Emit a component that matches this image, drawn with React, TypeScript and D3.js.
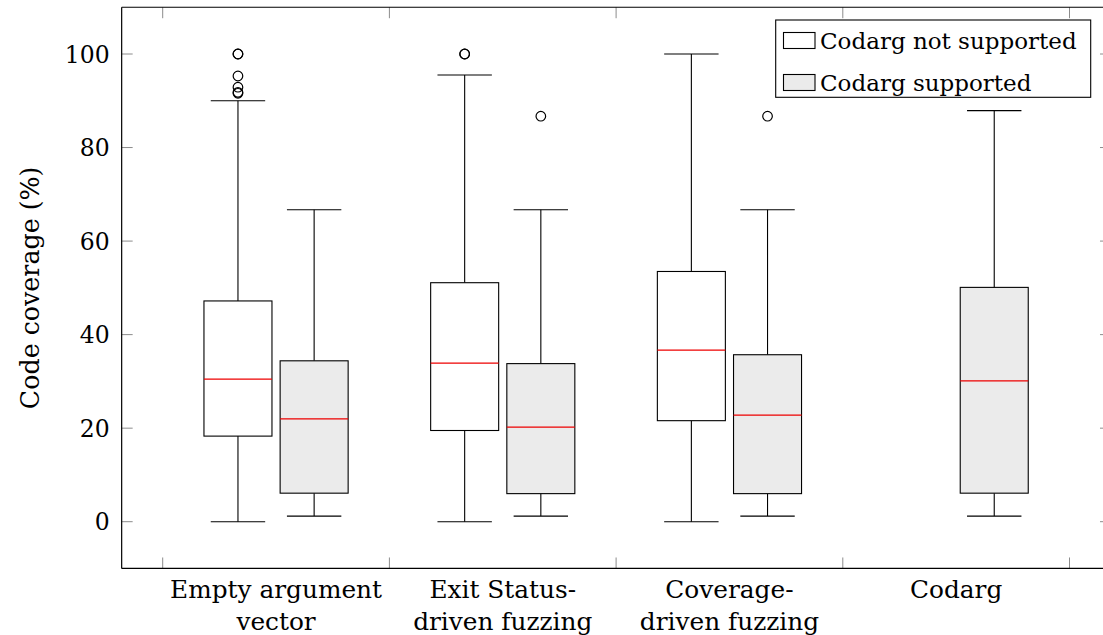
import React from "react";
import * as d3 from "d3";

const categories: string[][] = [
  ["Empty argument", "vector"],
  ["Exit Status-", "driven fuzzing"],
  ["Coverage-", "driven fuzzing"],
  ["Codarg"],
];

// [min, q1, median, q3, max] per category; null = no box
const notSupportedStats: (number[] | null)[] = [
  [0, 18.3, 30.5, 47.2, 90],
  [0, 19.5, 33.9, 51.1, 95.5],
  [0, 21.6, 36.7, 53.5, 100],
  null,
];
const notSupportedOutliers: number[][] = [
  [100, 100, 95.3, 92.9, 91.8, 91.6],
  [100, 100],
  [],
  [],
];

const supportedStats: (number[] | null)[] = [
  [1.2, 6.1, 22.0, 34.4, 66.7],
  [1.2, 6.0, 20.2, 33.8, 66.7],
  [1.2, 6.0, 22.8, 35.7, 66.7],
  [1.2, 6.1, 30.1, 50.1, 87.9],
];
const supportedOutliers: number[][] = [[], [86.7], [86.7], []];

const yTicks = [0, 20, 40, 60, 80, 100];
const xTicks = [0.5, 1.5, 2.5, 3.5, 4.5];
const legendLabels = ["Codarg not supported", "Codarg supported"];
const seriesFills = ["#ffffff", "#ebebeb"];

const W = 1103;
const H = 635;
const FONT = "'DejaVu Serif', serif";

export default function App() {
  const x = d3.scaleLinear().domain([0.5, 4.5]).range([162.7, 1069.5]);
  const y = d3.scaleLinear().domain([0, 100]).range([521.7, 54]);
  const xLeft = x(0.319);
  const xRight = x(4.683);
  const yTop = y(110);
  const yBottom = y(-10);
  const offset = 0.168;
  const boxW = x(0.3) - x(0);
  const capW = x(0.24) - x(0);
  const tickLen = 11;

  const series = [
    { stats: notSupportedStats, outliers: notSupportedOutliers, fill: seriesFills[0], dx: -offset },
    { stats: supportedStats, outliers: supportedOutliers, fill: seriesFills[1], dx: offset },
  ];

  return (
    <div style={{ position: "absolute", left: 0, top: 0 }}>
      <svg width={W} height={H} style={{ display: "block", background: "#fff" }}>
        <defs>
          <clipPath id="plotclip">
            <rect x={xLeft} y={yTop} width={xRight - xLeft} height={yBottom - yTop} />
          </clipPath>
        </defs>
        {/* ticks */}
        <g stroke="#8c8c8c" strokeWidth={1}>
          {yTicks.map((t) => (
            <g key={"yt" + t}>
              <line x1={xLeft} x2={xLeft + tickLen} y1={y(t)} y2={y(t)} />
              <line x1={xRight} x2={xRight - tickLen} y1={y(t)} y2={y(t)} />
            </g>
          ))}
          {xTicks.map((t) => (
            <g key={"xt" + t}>
              <line x1={x(t)} x2={x(t)} y1={yBottom} y2={yBottom - tickLen} />
              <line x1={x(t)} x2={x(t)} y1={yTop} y2={yTop + tickLen} />
            </g>
          ))}
        </g>
        {/* boxes */}
        <g clipPath="url(#plotclip)">
          {series.map((s, si) =>
            s.stats.map((st, i) => {
              if (!st) return null;
              const cx = x(i + 1 + s.dx);
              const [mn, q1, md, q3, mx] = st;
              return (
                <g key={si + "-" + i}>
                  <line x1={cx} x2={cx} y1={y(q3)} y2={y(mx)} stroke="#000" strokeWidth={1.1} />
                  <line x1={cx} x2={cx} y1={y(q1)} y2={y(mn)} stroke="#000" strokeWidth={1.1} />
                  <line x1={cx - capW / 2} x2={cx + capW / 2} y1={y(mx)} y2={y(mx)} stroke="#000" strokeWidth={1.1} />
                  <line x1={cx - capW / 2} x2={cx + capW / 2} y1={y(mn)} y2={y(mn)} stroke="#000" strokeWidth={1.1} />
                  <rect
                    x={cx - boxW / 2}
                    y={y(q3)}
                    width={boxW}
                    height={y(q1) - y(q3)}
                    fill={s.fill}
                    stroke="#000"
                    strokeWidth={1.1}
                  />
                  <line x1={cx - boxW / 2} x2={cx + boxW / 2} y1={y(md)} y2={y(md)} stroke="#ee0000" strokeWidth={1.2} />
                  {s.outliers[i].map((o, k) => (
                    <circle key={k} cx={cx} cy={y(o)} r={4.8} fill="none" stroke="#000" strokeWidth={1.2} />
                  ))}
                </g>
              );
            })
          )}
        </g>
        {/* axis frame */}
        <g stroke="#000" strokeWidth={1.2} fill="none">
          <line x1={xLeft} x2={xLeft} y1={yTop} y2={yBottom} />
          <line x1={xLeft} x2={xRight} y1={yTop} y2={yTop} />
          <line x1={xLeft} x2={xRight} y1={yBottom} y2={yBottom} />
          <line x1={xRight} x2={xRight} y1={yTop} y2={yBottom} />
        </g>
        {/* y tick labels */}
        <g fontFamily={FONT} fontSize={23.5} fill="#000" textAnchor="end">
          {yTicks.map((t) => (
            <text key={"yl" + t} x={xLeft - 12} y={y(t) + 8.5}>
              {t}
            </text>
          ))}
        </g>
        {/* x category labels */}
        <g fontFamily={FONT} fontSize={24.8} fill="#000" textAnchor="middle">
          {categories.map((lines, i) => (
            <text key={"xl" + i} x={x(i + 1)} y={598.3}>
              {lines.map((ln, k) => (
                <tspan key={k} x={x(i + 1)} y={598.3 + k * 31.7}>
                  {ln}
                </tspan>
              ))}
            </text>
          ))}
        </g>
        {/* y axis label */}
        <text
          fontFamily={FONT}
          fontSize={25.3}
          fill="#000"
          textAnchor="middle"
          transform={`translate(38.5, ${(yTop + yBottom) / 2}) rotate(-90)`}
        >
          Code coverage (%)
        </text>
        {/* legend */}
        <g>
          <rect x={775.7} y={20} width={315} height={77.3} fill="#fff" stroke="#000" strokeWidth={1.1} />
          {legendLabels.map((lab, i) => (
            <g key={"lg" + i}>
              <rect x={783.5} y={32.5 + i * 42} width={31.5} height={16} fill={seriesFills[i]} stroke="#000" strokeWidth={1.1} />
              <text x={820} y={49.3 + i * 41.5} fontFamily={FONT} fontSize={23} fill="#000">
                {lab}
              </text>
            </g>
          ))}
        </g>
      </svg>
    </div>
  );
}
